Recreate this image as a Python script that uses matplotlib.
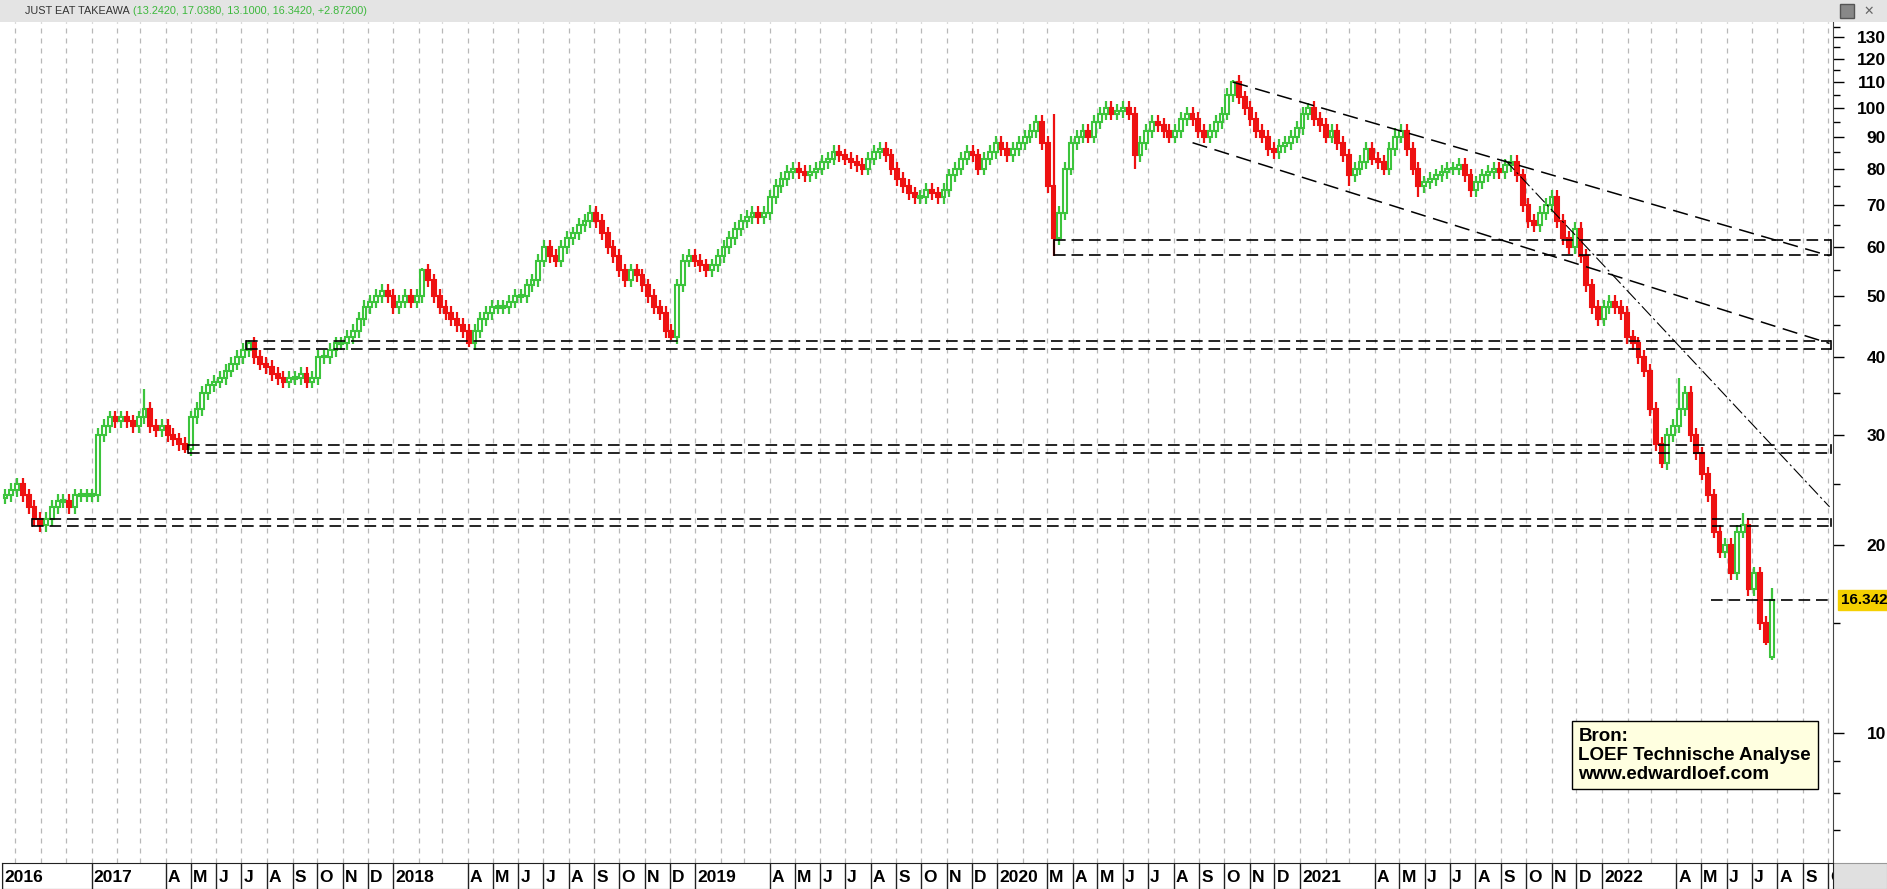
import numpy as np
import pandas as pd
import matplotlib
matplotlib.use("Agg")
import matplotlib.pyplot as plt
from matplotlib.patches import Rectangle

# ---------------- data ----------------
start_date = "2016-09-19"
closes = [
 24, 24.5, 25, 24, 23, 22, 21.5, 22, 23, 23.5,
 23.5, 23, 24, 24, 24, 24, 30, 31, 32, 31.5,
 32, 31.5, 31, 32, 33, 31, 30.5, 31, 30, 29.5,
 29, 28.5, 32, 33, 35, 36, 36.5, 37, 38, 39,
 40, 41, 42, 40, 39, 38.5, 37.5, 37, 36.5, 37,
 37, 37.5, 36.5, 37, 40, 40, 41, 42, 42, 43,
 44, 46, 48, 49, 50, 51, 50, 48, 49, 50,
 49, 50, 55, 53, 50, 48, 47, 46, 45, 44,
 42, 44, 46, 47, 48, 48, 48, 49, 50, 50,
 52, 53, 57, 60, 58, 57, 60, 62, 63, 65,
 66, 68, 66, 63, 60, 58, 55, 53, 55, 54,
 52, 50, 48, 47, 44, 43, 52, 57, 58, 57,
 56, 55, 56, 58, 60, 62, 64, 66, 67, 68,
 67, 68, 72, 75, 77, 79, 80, 79, 78, 79,
 80, 82, 83, 85, 84, 83, 82, 81, 80, 83,
 85, 86, 84, 80, 77, 75, 73, 72, 72, 74,
 73, 72, 74, 78, 80, 83, 85, 84, 80, 83,
 85, 88, 86, 84, 86, 88, 90, 92, 95, 88,
 75, 62, 68, 80, 88, 90, 92, 90, 95, 98,
 100, 98, 99, 100, 98, 84, 88, 92, 95, 94,
 92, 90, 92, 96, 98, 96, 92, 90, 92, 95,
 98, 105, 110, 104, 100, 96, 92, 90, 86, 85,
 87, 88, 90, 93, 98, 100, 96, 94, 90, 92,
 88, 84, 78, 80, 82, 86, 83, 82, 80, 86,
 90, 92, 86, 80, 75, 76, 77, 78, 79, 80,
 80, 81, 78, 74, 76, 78, 79, 80, 79, 81,
 82, 78, 70, 66, 65, 68, 70, 72, 66, 62,
 60, 64, 58, 52, 48, 46, 48, 49, 48, 47,
 43, 42, 40, 38, 33, 29, 27, 30, 31, 33,
 35, 30, 28, 26, 24, 21, 19.5, 20, 18, 21,
 21.5, 17, 18, 15, 14, 16.342,
]
first_open = 23.8
# notable wick extremes (week index -> value)
spike_highs = {24: 35.5, 42: 42.5, 72: 55.5, 101: 70, 181: 98, 212: 111, 225: 102,
               240: 93, 259: 83, 289: 37, 300: 22.5, 305: 17.04}
spike_lows = {6: 21.0, 31: 28.0, 80: 41.5, 115: 42.5, 181: 58.0, 195: 80,
              232: 75, 244: 72, 286: 26.5, 304: 13.8, 305: 13.10}
last_open = 13.242

h_pairs = [(22.0, 21.4, 4.5), (28.9, 28.0, 31.5), (42.4, 41.2, 41.5), (61.5, 58.2, 181.0)]
single_level = (16.342, 294.5)
trend_lines = [((212, 110), (315, 58)), ((205, 88), (315, 42))]
thin_line = ((259, 82.5), (315, 23))

# ---------------- figure ----------------
W, H = 1887, 889
fig = plt.figure(figsize=(W / 100, H / 100), dpi=100)
fig.patch.set_facecolor("white")

ax_l, ax_r, ax_t, ax_b = 2, 1833, 22, 863
ax = fig.add_axes([ax_l / W, 1 - ax_b / H, (ax_r - ax_l) / W, (ax_b - ax_t) / H])
n = len(closes)
opens = [first_open] + closes[:-1]
opens[-1] = last_open
xmax = 315.6
ax.set_xlim(-0.6, xmax)
ax.set_yscale("log")
ax.set_ylim(6.19, 137.3)

# month gridlines
t0 = pd.Timestamp(start_date)
month_starts = pd.date_range("2016-10-01", "2022-10-01", freq="MS")
mpos = [(m - t0).days / 7.0 for m in month_starts]
for p in mpos:
    ax.axvline(p, color="#b8b8b8", lw=0.9, ls=(0, (4, 4)), zorder=0)

green, red = "#3cc43c", "#ee1111"
bw = 0.66
for i in range(n):
    o, c = opens[i], closes[i]
    top, bot = max(o, c), min(o, c)
    hi = spike_highs.get(i, top * 1.025)
    lo = spike_lows.get(i, bot * 0.975)
    up = c >= o
    col = green if up else red
    ax.plot([i, i], [lo, bot], color=col, lw=1.6, zorder=2, solid_capstyle="butt")
    ax.plot([i, i], [top, hi], color=col, lw=1.6, zorder=2, solid_capstyle="butt")
    if top / bot < 1.004:
        top, bot = top * 1.003, bot * 0.997
    ax.add_patch(Rectangle((i - bw / 2, bot), bw, top - bot,
                           facecolor="white" if up else red, edgecolor=col,
                           lw=1.5, zorder=3))

dash = (0, (7, 3.5))
for a, b, x0 in h_pairs:
    ax.plot([x0, xmax - 0.4], [a, a], color="black", lw=1.2, ls=dash, zorder=4)
    ax.plot([x0, xmax - 0.4], [b, b], color="black", lw=1.2, ls=dash, zorder=4)
    ax.plot([x0, x0], [b, a], color="black", lw=1.2, zorder=4)
    ax.plot([xmax - 0.4, xmax - 0.4], [b, a], color="black", lw=1.2, zorder=4)
ax.plot([single_level[1], xmax - 0.4], [single_level[0]] * 2, color="black", lw=1.2, ls=dash, zorder=4)
for (x1, y1), (x2, y2) in trend_lines:
    ax.plot([x1, x2], [y1, y2], color="black", lw=1.1, ls=(0, (10, 5)), zorder=4)
(x1, y1), (x2, y2) = thin_line
ax.plot([x1, x2], [y1, y2], color="black", lw=0.8, ls=(0, (12, 3, 2, 3)), zorder=4)

# right axis
ax.yaxis.tick_right()
maj = [10, 20, 30, 40, 50, 60, 70, 80, 90, 100, 110, 120, 130]
ax.set_yticks(maj)
ax.set_yticklabels([str(v) for v in maj], fontweight="bold", fontsize=12.5,
                   fontfamily="Liberation Sans")
ax.set_yticks([7, 8, 9, 15, 25, 35, 45, 55, 65, 75, 85, 95, 105, 115, 125, 135], minor=True)
ax.yaxis.set_minor_formatter(matplotlib.ticker.NullFormatter())
ax.tick_params(axis="y", which="major", length=8, width=1, pad=30)
ax.tick_params(axis="y", which="minor", length=5, width=1)
for lab in ax.get_yticklabels():
    lab.set_horizontalalignment("right")
ax.set_xticks([])
for s in ["top", "bottom", "left"]:
    ax.spines[s].set_visible(False)
ax.spines["right"].set_color("#444")

# price tag
ax.text(1.0045, single_level[0], "16.342", transform=ax.get_yaxis_transform(),
        ha="left", va="center", fontsize=11, fontweight="bold", fontfamily="Liberation Sans",
        bbox=dict(boxstyle="square,pad=0.2", fc="#f5d000", ec="#f5d000"), zorder=6)

# source box
ax.text(0.861, 0.128, "Bron:\nLOEF Technische Analyse\nwww.edwardloef.com",
        transform=ax.transAxes, ha="left", va="center", fontsize=13.5, fontweight="bold",
        fontfamily="Liberation Sans", linespacing=1.15,
        bbox=dict(boxstyle="square,pad=0.35", fc="#ffffe0", ec="black", lw=1), zorder=7)

# header bar
hb = fig.add_axes([0, 1 - 22 / H, 1, 22 / H])
hb.set_facecolor("#e4e4e4")
hb.set_xticks([]); hb.set_yticks([])
for s in hb.spines.values():
    s.set_visible(False)
hb.text(25 / W, 0.5, "JUST EAT TAKEAWA", fontsize=7.8, color="#333", va="center",
        fontfamily="Liberation Sans", transform=hb.transAxes)
hb.text(133 / W, 0.5, "(13.2420, 17.0380, 13.1000, 16.3420, +2.87200)", fontsize=7.8,
        color="#3cb83c", va="center", fontfamily="Liberation Sans", transform=hb.transAxes)
hb.text(1869 / W, 0.5, "✕", fontsize=9, color="#666", va="center", ha="center", transform=hb.transAxes)
hb.add_patch(Rectangle((1840 / W, 0.2), 14 / W, 0.6, fc="#888", ec="#555", transform=hb.transAxes))

# bottom axis strip (gray part right of the axis)
gx = fig.add_axes([ax_r / W, 0, (W - ax_r) / W, (H - ax_b) / H])
gx.set_facecolor("#e0e0e0")
gx.set_xticks([]); gx.set_yticks([])
for s in gx.spines.values():
    s.set_color("#999")

bx = fig.add_axes([ax_l / W, 0, (ax_r - ax_l) / W, (H - ax_b) / H], sharex=ax)
bx.set_xticks([]); bx.set_yticks([])
bx.set_ylim(0, 1)
for s in bx.spines.values():
    s.set_color("#222")
labels = [(-0.55, "2016")]
skip = {(2017, 2), (2017, 3), (2018, 2), (2018, 3), (2019, 2), (2019, 3), (2020, 2),
        (2021, 2), (2021, 3), (2022, 2), (2022, 3)}
month_letters = "JFMAMJJASOND"
for m, p in zip(month_starts, mpos):
    if p > xmax or m.year < 2017:
        continue
    if (m.year, m.month) in skip:
        continue
    txt = str(m.year) if m.month == 1 else month_letters[m.month - 1]
    labels.append((p, txt))
for p, txt in labels:
    bx.axvline(p, color="#222", lw=1)
    bx.text(p + 0.35, 0.45, txt, fontsize=12.5, fontweight="bold", fontfamily="Liberation Sans",
            va="center", ha="left", clip_on=True)
bx.set_xlim(-0.6, xmax)

fig.savefig("out.png", dpi=100)
